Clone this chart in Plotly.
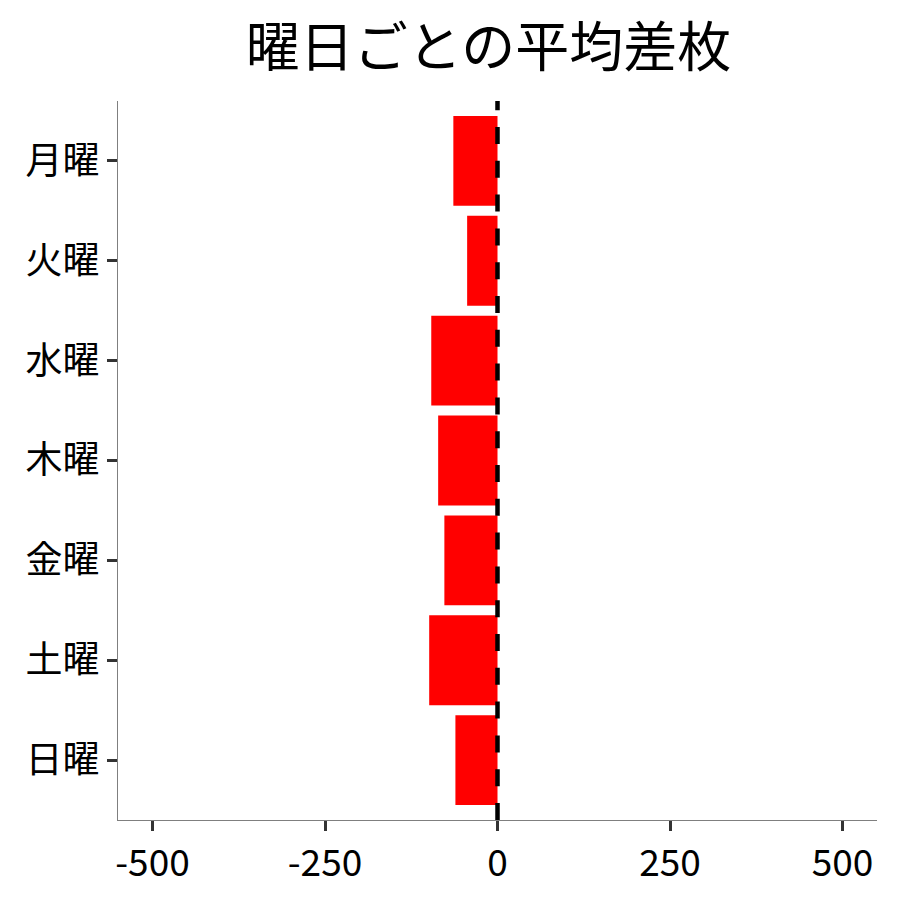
import plotly.graph_objects as go

# 曜日ごとの平均差枚
days = ["月曜", "火曜", "水曜", "木曜", "金曜", "土曜", "日曜"]
avg_diff = [-64, -44, -96, -86, -77, -99, -61]

x_ticks = [-500, -250, 0, 250, 500]

font_family = "Noto Sans CJK JP"

fig = go.Figure()
fig.add_trace(go.Bar(
    x=avg_diff,
    y=days,
    orientation="h",
    marker=dict(color="#FF0000", line=dict(width=0)),
    width=0.9,
))

# dashed line at zero
fig.add_shape(type="line", xref="x", yref="paper", x0=0, x1=0, y0=0, y1=1,
              line=dict(color="black", width=4.5, dash="17px,16.8px"))

# the page has an 8px body margin, so margins are offset by that
fig.update_layout(
    width=900, height=900,
    paper_bgcolor="white", plot_bgcolor="white",
    margin=dict(l=110, r=31, t=93, b=88),
    showlegend=False,
    font=dict(family=font_family, color="black"),
    title=dict(text="曜日ごとの平均差枚", x=0.534, xanchor="center",
               yref="container", y=0.955, yanchor="middle",
               font=dict(size=54, color="black")),
)
fig.update_xaxes(
    range=[-550, 550], tickvals=x_ticks, ticktext=[str(v) for v in x_ticks],
    showgrid=False, zeroline=False,
    showline=True, linecolor="#7f7f7f", linewidth=1.2,
    ticks="outside", ticklen=10, tickwidth=3, tickcolor="#333333",
    tickfont=dict(size=37, color="black"),
)
fig.update_yaxes(
    categoryorder="array", categoryarray=days,
    range=[len(days) - 0.4, -0.6],
    showgrid=False, zeroline=False,
    showline=True, linecolor="#7f7f7f", linewidth=1.2,
    ticks="outside", ticklen=10, tickwidth=3, tickcolor="#333333",
    tickfont=dict(size=37, color="black"),
)

fig.write_html("out.html")
